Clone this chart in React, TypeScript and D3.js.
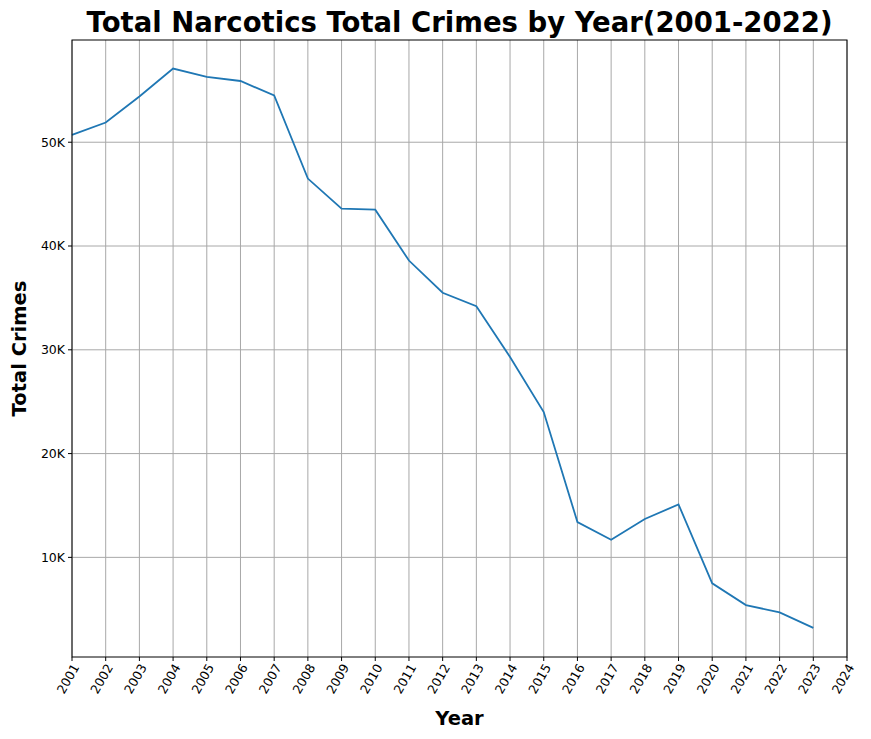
import * as d3 from 'd3';
import * as React from 'react';

const years = d3.range(2001, 2024);
const crimes = [50700, 51900, 54400, 57100, 56300, 55900, 54500, 46500, 43600, 43500, 38600, 35500, 34200, 29300, 24000, 13400, 11700, 13700, 15100, 7500, 5400, 4700, 3200];
const xTicks = d3.range(2001, 2025);
const yTicks = [10000, 20000, 30000, 40000, 50000];

const W = 871;
const H = 739;
const m = { left: 72, right: 847, top: 40, bottom: 657 };

export default function App() {
  const x = d3.scaleLinear().domain([2001, 2024]).range([m.left, m.right]);
  const y = d3.scaleLinear().domain([400, 59850]).range([m.bottom, m.top]);
  const line = d3.line<number>().x((_, i) => x(years[i])).y((d) => y(d));
  const font = 'DejaVu Sans, sans-serif';

  return (
    <svg width={W} height={H} style={{ position: 'absolute', left: 0, top: 0, background: '#fff' }} fontFamily={font}>
      <text x={(m.left + m.right) / 2} y={32} textAnchor="middle" fontSize={27.5} fontWeight="bold">
        Total Narcotics Total Crimes by Year(2001-2022)
      </text>
      {xTicks.map((t) => (
        <g key={t}>
          <line x1={x(t)} x2={x(t)} y1={m.top} y2={m.bottom} stroke="#a8a8a8" strokeWidth={1} />
          <line x1={x(t)} x2={x(t)} y1={m.bottom} y2={m.bottom + 4} stroke="#000" />
          <text transform={`translate(${x(t) + 4},${m.bottom + 8}) rotate(-60)`} textAnchor="end" fontSize={12.5} dy="0.35em">
            {t}
          </text>
        </g>
      ))}
      {yTicks.map((t) => (
        <g key={t}>
          <line x1={m.left} x2={m.right} y1={y(t)} y2={y(t)} stroke="#a8a8a8" strokeWidth={1} />
          <line x1={m.left - 4} x2={m.left} y1={y(t)} y2={y(t)} stroke="#000" />
          <text x={m.left - 7} y={y(t)} textAnchor="end" dy="0.35em" fontSize={12.5}>
            {d3.format('d')(t / 1000)}K
          </text>
        </g>
      ))}
      <path d={line(crimes) ?? ''} fill="none" stroke="#1f77b4" strokeWidth={1.8} />
      <rect x={m.left} y={m.top} width={m.right - m.left} height={m.bottom - m.top} fill="none" stroke="#000" strokeWidth={1} />
      <text x={(m.left + m.right) / 2} y={725} textAnchor="middle" fontSize={19.5} fontWeight="bold">Year</text>
      <text transform={`translate(26,${(m.top + m.bottom) / 2}) rotate(-90)`} textAnchor="middle" fontSize={19.5} fontWeight="bold">
        Total Crimes
      </text>
    </svg>
  );
}
